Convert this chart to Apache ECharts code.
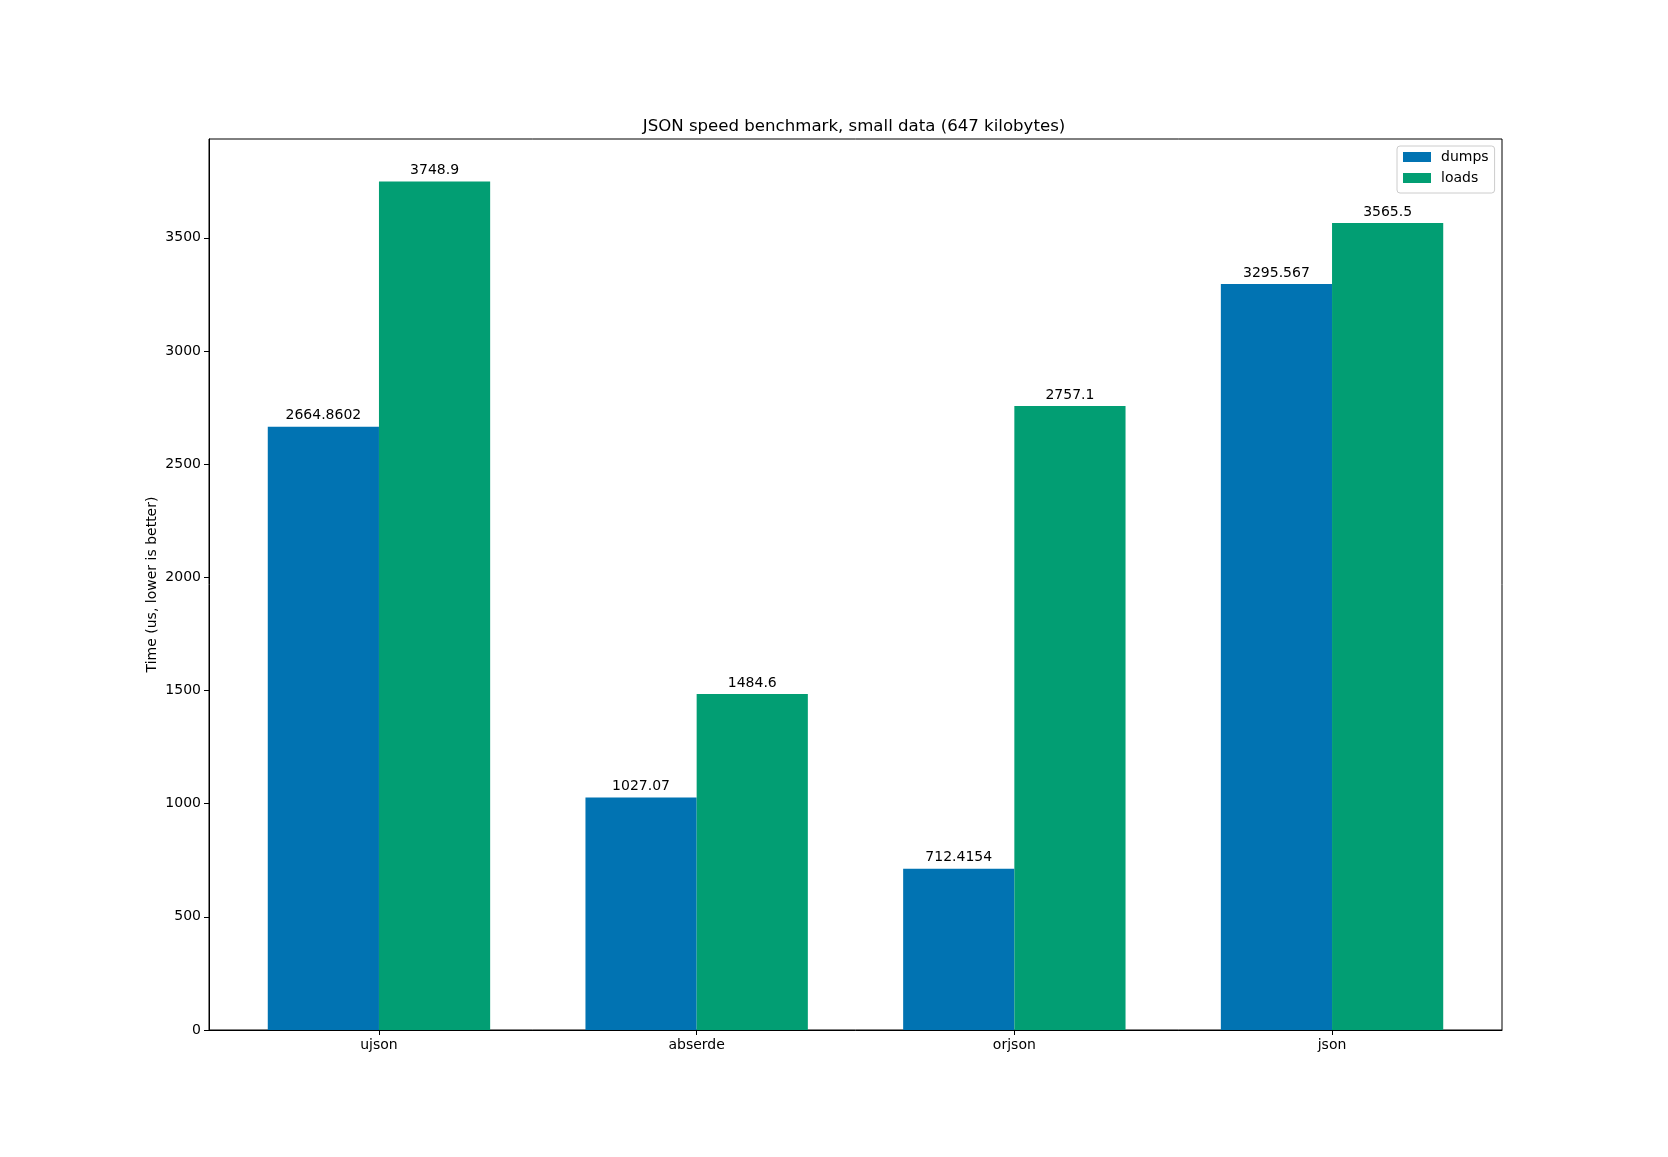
<!DOCTYPE html>
<html>
<head>
<meta charset="utf-8">
<script src="https://cdn.jsdelivr.net/npm/echarts@6/dist/echarts.min.js"></script>
<style>
html,body{margin:0;padding:0;background:#fff;}
#main{width:1668px;height:1157px;}
</style>
</head>
<body>
<div id="main"></div>
<script>
const categories = ['ujson', 'abserde', 'orjson', 'json'];
const dumps = [2664.8602, 1027.07, 712.4154, 3295.567];
const loads = [3748.9, 1484.6, 2757.1, 3565.5];
const yTicks = [0, 500, 1000, 1500, 2000, 2500, 3000, 3500];
const seriesNames = ['dumps', 'loads'];

const FONT = 'DejaVu Sans';
const yMax = Math.max(...dumps, ...loads) * 1.05;
const xIdx = categories.map((c, i) => i);
const xPad = (categories.length - 1 + 0.7) * 0.05 + 0.35;

const chart = echarts.init(document.getElementById('main'), null, {renderer: 'canvas'});
const labelOpt = {
  show: true, position: 'top', distance: 4, color: '#000', fontSize: 14, fontFamily: FONT,
  formatter: p => String(p.value[1])
};
chart.setOption({
  animation: false,
  backgroundColor: '#fff',
  textStyle: {fontFamily: FONT},
  title: {
    text: 'JSON speed benchmark, small data (647 kilobytes)',
    left: 849, top: 113, textAlign: 'center',
    textStyle: {fontFamily: FONT, fontSize: 16.6, fontWeight: 'normal', color: '#000'}
  },
  legend: {
    data: seriesNames,
    orient: 'vertical',
    left: 1397, top: 146,
    icon: 'rect', itemWidth: 28, itemHeight: 10, itemGap: 7,
    padding: [4, 6, 8, 6],
    borderColor: '#cccccc', borderWidth: 1, borderRadius: 3,
    backgroundColor: 'rgba(255,255,255,0.8)',
    textStyle: {fontFamily: FONT, fontSize: 14, color: '#000', padding: [0, 0, 0, 5]}
  },
  grid: {
    left: 209, right: 166, top: 139, bottom: 127,
    show: true, borderColor: '#000', borderWidth: 1, backgroundColor: 'transparent'
  },
  xAxis: {
    type: 'value',
    min: -xPad, max: categories.length - 1 + xPad,
    splitLine: {show: false},
    axisLine: {show: true, onZero: false, lineStyle: {color: '#000', width: 1}},
    axisTick: {show: true, length: 5, customValues: xIdx, lineStyle: {color: '#000'}},
    axisLabel: {
      customValues: xIdx, color: '#000', fontSize: 14, fontFamily: FONT, margin: 8,
      formatter: v => categories[Math.round(v)] || ''
    }
  },
  yAxis: {
    type: 'value',
    min: 0, max: yMax,
    name: 'Time (us, lower is better)',
    nameLocation: 'middle', nameGap: 50, nameMoveOverlap: false,
    nameTextStyle: {fontFamily: FONT, fontSize: 14, color: '#000'},
    splitLine: {show: false},
    axisLine: {show: true, onZero: false, lineStyle: {color: '#000', width: 1}},
    axisTick: {show: true, length: 5, customValues: yTicks, lineStyle: {color: '#000'}},
    axisLabel: {customValues: yTicks, color: '#000', fontSize: 14, fontFamily: FONT, margin: 8,
      formatter: v => String(v)}
  },
  series: [
    {
      name: seriesNames[0], type: 'bar', barWidth: '35%', barGap: '0%',
      itemStyle: {color: '#0173B2'},
      label: labelOpt,
      data: dumps.map((v, i) => [i, v])
    },
    {
      name: seriesNames[1], type: 'bar', barWidth: '35%', barGap: '0%',
      itemStyle: {color: '#029E73'},
      label: labelOpt,
      data: loads.map((v, i) => [i, v])
    }
  ]
});
</script>
</body>
</html>
